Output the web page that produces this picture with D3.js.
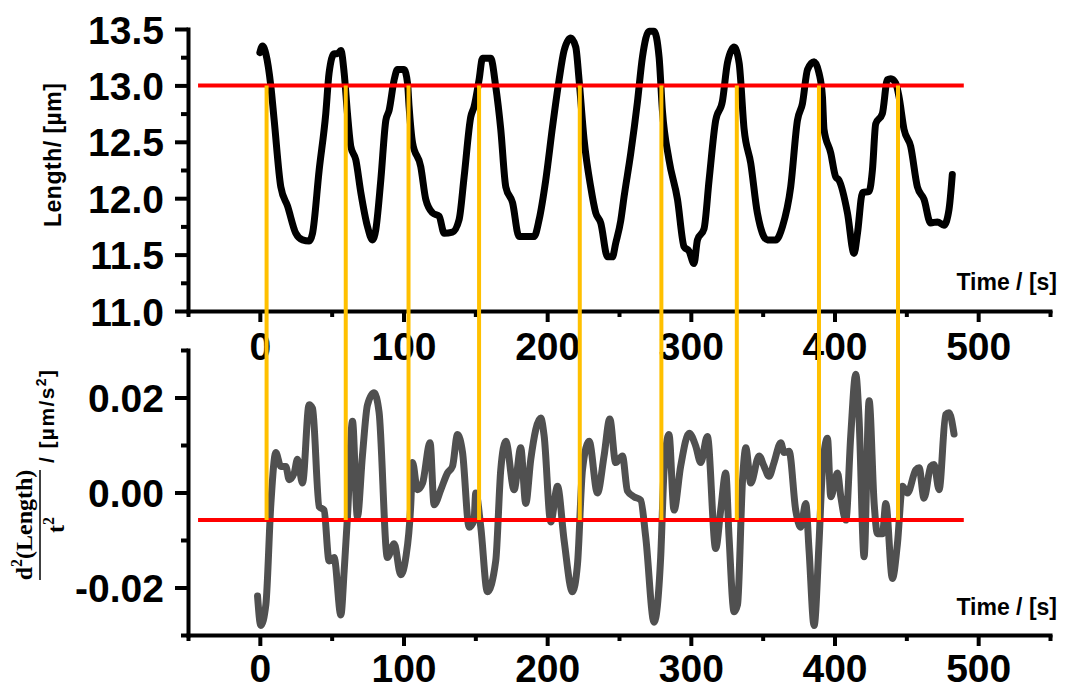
<!DOCTYPE html>
<meta charset="utf-8">
<style>
body { margin: 0; background: #fff; }
svg { font-family: Arial, "Liberation Sans", sans-serif; }
</style>
<svg width="1065" height="690"></svg>
<script src="https://d3js.org/d3.v7.min.js"></script>
<script>

// top panel: length over time
var timeTop = [0, 1.9, 4.2, 7.7, 10, 14.6, 19.3, 25, 29.7, 34.3, 36.7, 41.3, 45.9, 48.2, 51.7, 54, 56.4, 58.7,
  61, 63.3, 66.8, 70.3, 74.9, 78.4, 80.7, 84.2, 87.7, 90, 93.5, 95.8, 100.4, 102.8, 103.9, 106.3, 112, 115.5,
  120.2, 124.8, 128.3, 134.1, 138.7, 142.2, 146.8, 149.1, 152.6, 155, 160.7, 164.2, 167.7, 171.2, 175.9, 180.4,
  190.9, 194.4, 199, 203.7, 208.3, 211.8, 216.4, 219.9, 222.2, 225.7, 230.3, 233.8, 237.3, 242, 245.4, 247.7,
  251.2, 253.5, 258.2, 262.8, 266.3, 270.9, 274.4, 277.9, 280.2, 284.8, 290.7, 295.3, 298.8, 302.2, 304.6,
  309.2, 312.7, 317.3, 322, 325.5, 330.1, 333.6, 337.1, 341.7, 346.3, 353.3, 359.1, 363.8, 369.5, 374.2, 377.7,
  381.2, 385.8, 389.2, 391.6, 392.7, 397.4, 400.8, 403.1, 409, 413.6, 416, 419.5, 424.1, 426.4, 428.7, 433.3,
  436.8, 439.2, 442.6, 444.9, 448.4, 453, 457.7, 462.3, 466.9, 471.6, 476.2, 479.7, 482];
var lengthVals = [13.29, 13.35, 13.28, 12.99, 12.69, 12.1, 11.93, 11.69, 11.63, 11.62, 11.69, 12.25, 12.75, 13.11, 13.28, 13.28, 13.31, 13.11,
  12.75, 12.46, 12.34, 12.05, 11.75, 11.63, 11.72, 12.16, 12.69, 12.78, 13.05, 13.14, 13.14, 13.02, 12.81, 12.49, 12.28, 11.99,
  11.87, 11.84, 11.69, 11.7, 11.81, 12.19, 12.72, 12.81, 13.05, 13.24, 13.24, 12.99, 12.61, 12.1, 11.96, 11.66,
  11.66, 11.81, 12.16, 12.63, 13.05, 13.31, 13.42, 13.34, 13.05, 12.52, 12.1, 11.87, 11.78, 11.48, 11.48, 11.6,
  11.8, 12.01, 12.4, 12.85, 13.25, 13.48, 13.48, 13.25, 12.78, 12.34, 11.99, 11.57, 11.53, 11.42, 11.63,
  11.73, 12.16, 12.69, 12.86, 13.2, 13.34, 13.2, 12.61, 12.31, 11.87, 11.63, 11.63, 11.75, 12.1, 12.69, 12.84,
  13.14, 13.21, 13.11, 12.9, 12.61, 12.4, 12.19, 12.16, 11.87, 11.51, 11.69, 12.05, 12.06, 12.25, 12.66, 12.75,
  13.05, 13.06, 13.02, 12.9, 12.61, 12.46, 12.1, 11.99, 11.78, 11.79, 11.76, 11.9, 12.21];

// bottom panel: second derivative
var timeBot = [-1.6, 0.7, 4.2, 7.7, 11.1, 14.6, 18.1, 20.4, 23.9, 26.2, 29.7, 34.3, 36.7, 41.3, 44.7, 48.2, 51.7,
  56.4, 58.7, 61, 64.5, 67.9, 71.4, 74.9, 79.5, 83, 88.8, 93.5, 98.1, 101.6, 105.1, 106.3, 109.7, 113.3, 118.5,
  121.3, 126, 130.6, 134.1, 137.6, 141.1, 145.7, 149.1, 150.3, 153.8, 158.4, 164.2, 167.7, 171.2, 177, 181.6,
  185.1, 188.6, 195.5, 197.9, 202.5, 207.2, 211.8, 217.6, 221.1, 224.6, 229.2, 235, 239.6, 243.6, 247.7, 252.4,
  255.9, 260.5, 265.1, 268.6, 274.4, 279, 281.4, 284.8, 288.3, 292.9, 298.8, 303.4, 306.9, 311.5, 317.3, 320.8,
  324.3, 326.6, 330.1, 332.5, 336, 338.3, 341.7, 347.5, 351, 354.4, 357.9, 362.6, 364.9, 368.4, 373, 376.5, 380,
  382.3, 385.8, 389.2, 391.6, 395.1, 397.4, 402.1, 404.4, 407.9, 411.3, 414.8, 417.1, 420.6, 424.1, 427.6,
  429.9, 433.4, 435.7, 440.3, 443.8, 447.3, 450.8, 456.6, 458.9, 462.3, 467, 469.3, 472.8, 477.4, 479.7, 483.2];
var accelVals = [-0.0218, -0.028, -0.0236, -0.0023, 0.0084, 0.0055, 0.0055, 0.0027, 0.0041, 0.007, 0.002, 0.0185, 0.0177, -0.003, -0.0037, -0.0144, -0.0137,
  -0.0258, -0.0165, -0.0051, 0.015, -0.0051, 0.0077, 0.0184, 0.021, 0.0169, -0.0137, -0.0108, -0.0173, -0.0137, -0.0023, 0.0063, 0.0006, 0.002, 0.0105,
  -0.0026, 0.0006, 0.0041, 0.0055, 0.0122, 0.0084, -0.0073, -0.0058, -0.0001, -0.0073, -0.0209, -0.0144, 0.0048, 0.0108, 0.0006, 0.0094,
  -0.0023, 0.007, 0.0157, 0.0119, -0.0062, 0.0013, -0.0101, -0.0209, -0.0151, 0.0048, 0.0108, -0.0001, 0.0077, 0.0155, 0.0063, 0.0077,
  0.0003, -0.0009, -0.0016, -0.0094, -0.0273, -0.0137, 0.0048, 0.0122, -0.0037, 0.0055, 0.0125, 0.0098, 0.0063, 0.0118, -0.0118, -0.0037,
  0.0041, -0.0094, -0.0251, -0.0236, 0.0027, 0.0094, 0.002, 0.0077, 0.0055, 0.0034, 0.0063, 0.0105, 0.0084, 0.0087, -0.0037, -0.0073, -0.0023,
  -0.0122, -0.028, -0.0108, 0.0048, 0.0114, -0.0009, 0.0041, -0.0009, -0.0058, 0.0119, 0.0249, 0.0155, -0.0135, 0.0193, -0.0023,
  -0.0087, -0.0087, -0.0023, -0.0181, -0.0108, 0.0013, -0.0001, 0.0048, 0.0052, -0.0012, 0.0055, 0.0059, 0.0006, 0.0164, 0.0168, 0.0123];

var crossTimes = [4.7, 59.8, 103.5, 152.6, 222.7, 279.5, 332, 389.2, 444.2];
var thresholdTop = 13.0;
var thresholdBot = -0.0058;
var thresholdSpan = [-43, 490];

var xTicks = [0, 100, 200, 300, 400, 500];
var xMinor = [-50, 50, 150, 250, 350, 450, 550];
var yTopTicks = [11.0, 11.5, 12.0, 12.5, 13.0, 13.5];
var yTopMinor = [11.25, 11.75, 12.25, 12.75, 13.25];
var yBotTicks = [-0.02, 0.00, 0.02];
var yBotMinor = [-0.03, -0.01, 0.01, 0.03];

var svg = d3.select("svg");

var x = d3.scaleLinear().domain([-50, 550]).range([188, 1050]);
var yTop = d3.scaleLinear().domain([11, 13.5]).range([311, 29]);
var yBot = d3.scaleLinear().domain([-0.03, 0.03]).range([635, 350]);

// plain hyphen for negatives, like the original
function fmt(spec) {
  var f = d3.format(spec);
  return function(d) { return f(d).replace("\u2212", "-"); };
}

function styleAxis(g) {
  g.select(".domain").attr("stroke-width", 4).attr("stroke-linecap", "square");
  g.selectAll(".tick line").attr("stroke-width", 4);
  g.selectAll("text").attr("font-size", 39).attr("font-weight", "bold").attr("fill", "#000");
}

function drawPanel(yScale, yTicks, yMinor, yFmt, labelDy) {
  // minor ticks
  svg.append("g").attr("transform", "translate(0," + yScale.range()[0] + ")")
    .call(d3.axisBottom(x).tickValues(xMinor).tickSize(6).tickFormat(""))
    .call(function(g) { g.select(".domain").remove(); g.selectAll("line").attr("stroke-width", 4); });
  svg.append("g").attr("transform", "translate(188,0)")
    .call(d3.axisLeft(yScale).tickValues(yMinor).tickSize(7).tickFormat(""))
    .call(function(g) { g.select(".domain").remove(); g.selectAll("line").attr("stroke-width", 4); });

  var gx = svg.append("g").attr("transform", "translate(0," + yScale.range()[0] + ")")
    .call(d3.axisBottom(x).tickValues(xTicks).tickSize(11).tickSizeOuter(0).tickFormat(d3.format("d")))
    .call(styleAxis);
  gx.selectAll("text").attr("dy", null).attr("y", labelDy);

  var gy = svg.append("g").attr("transform", "translate(188,0)")
    .call(d3.axisLeft(yScale).tickValues(yTicks).tickSize(13).tickSizeOuter(0).tickFormat(yFmt))
    .call(styleAxis);
  gy.selectAll("text").attr("dy", null).attr("y", 14).attr("x", -24);
}

drawPanel(yTop, yTopTicks, yTopMinor, fmt(".1f"), 49);
drawPanel(yBot, yBotTicks, yBotMinor, fmt(".2f"), 47);

// curves
var lineTop = d3.line().x(function(d, i) { return x(timeTop[i]); }).y(function(d) { return yTop(d); })
  .curve(d3.curveMonotoneX);
svg.append("path").datum(lengthVals).attr("d", lineTop)
  .attr("fill", "none").attr("stroke", "#000").attr("stroke-width", 7)
  .attr("stroke-linejoin", "round").attr("stroke-linecap", "round");

var lineBot = d3.line().x(function(d, i) { return x(timeBot[i]); }).y(function(d) { return yBot(d); })
  .curve(d3.curveMonotoneX);
svg.append("path").datum(accelVals).attr("d", lineBot)
  .attr("fill", "none").attr("stroke", "#505050").attr("stroke-width", 7)
  .attr("stroke-linejoin", "round").attr("stroke-linecap", "round");

// threshold lines
[[yTop, thresholdTop], [yBot, thresholdBot]].forEach(function(p) {
  svg.append("line")
    .attr("x1", x(thresholdSpan[0])).attr("x2", x(thresholdSpan[1]))
    .attr("y1", p[0](p[1])).attr("y2", p[0](p[1]))
    .attr("stroke", "#ff0000").attr("stroke-width", 4);
});

// crossing markers
svg.selectAll("line.cross").data(crossTimes).enter().append("line")
  .attr("class", "cross")
  .attr("x1", function(d) { return x(d); }).attr("x2", function(d) { return x(d); })
  .attr("y1", yTop(thresholdTop)).attr("y2", yBot(thresholdBot))
  .attr("stroke", "#ffc000").attr("stroke-width", 4);

// axis titles
svg.append("text").attr("x", 1057).attr("y", 290).attr("text-anchor", "end")
  .attr("font-size", 23).attr("font-weight", "bold").text("Time / [s]");
svg.append("text").attr("x", 1057).attr("y", 615).attr("text-anchor", "end")
  .attr("font-size", 23).attr("font-weight", "bold").text("Time / [s]");

svg.append("text").attr("transform", "translate(61,155) rotate(-90)")
  .attr("text-anchor", "middle").attr("font-size", 23).attr("font-weight", "bold")
  .attr("textLength", 144).attr("lengthAdjust", "spacing")
  .text("Length/ [µm]");

var serif = "'Liberation Serif', 'DejaVu Serif', serif";
var frac = svg.append("g").attr("transform", "translate(40,525) rotate(-90)");
frac.append("line").attr("x1", -55).attr("x2", 55).attr("y1", 0).attr("y2", 0)
  .attr("stroke", "#000").attr("stroke-width", 1.5);
var num = frac.append("text").attr("x", 0).attr("y", -8).attr("text-anchor", "middle")
  .attr("font-family", serif).attr("font-weight", "bold").attr("font-size", 24);
num.append("tspan").text("d");
num.append("tspan").attr("font-size", 16).attr("dy", -10).text("2");
num.append("tspan").attr("dy", 10).text("(Length)");
var den = frac.append("text").attr("x", 0).attr("y", 24).attr("text-anchor", "middle")
  .attr("font-family", serif).attr("font-weight", "bold").attr("font-size", 24);
den.append("tspan").text("t");
den.append("tspan").attr("font-size", 16).attr("dy", -10).text("2");
var unit = frac.append("text").attr("x", 62).attr("y", 14)
  .attr("font-size", 21).attr("font-weight", "bold")
  .attr("textLength", 93).attr("lengthAdjust", "spacing");
unit.append("tspan").text("/ [µm/s");
unit.append("tspan").attr("font-size", 14).attr("dy", -8).text("2");
unit.append("tspan").attr("dy", 8).text("]");

</script>
